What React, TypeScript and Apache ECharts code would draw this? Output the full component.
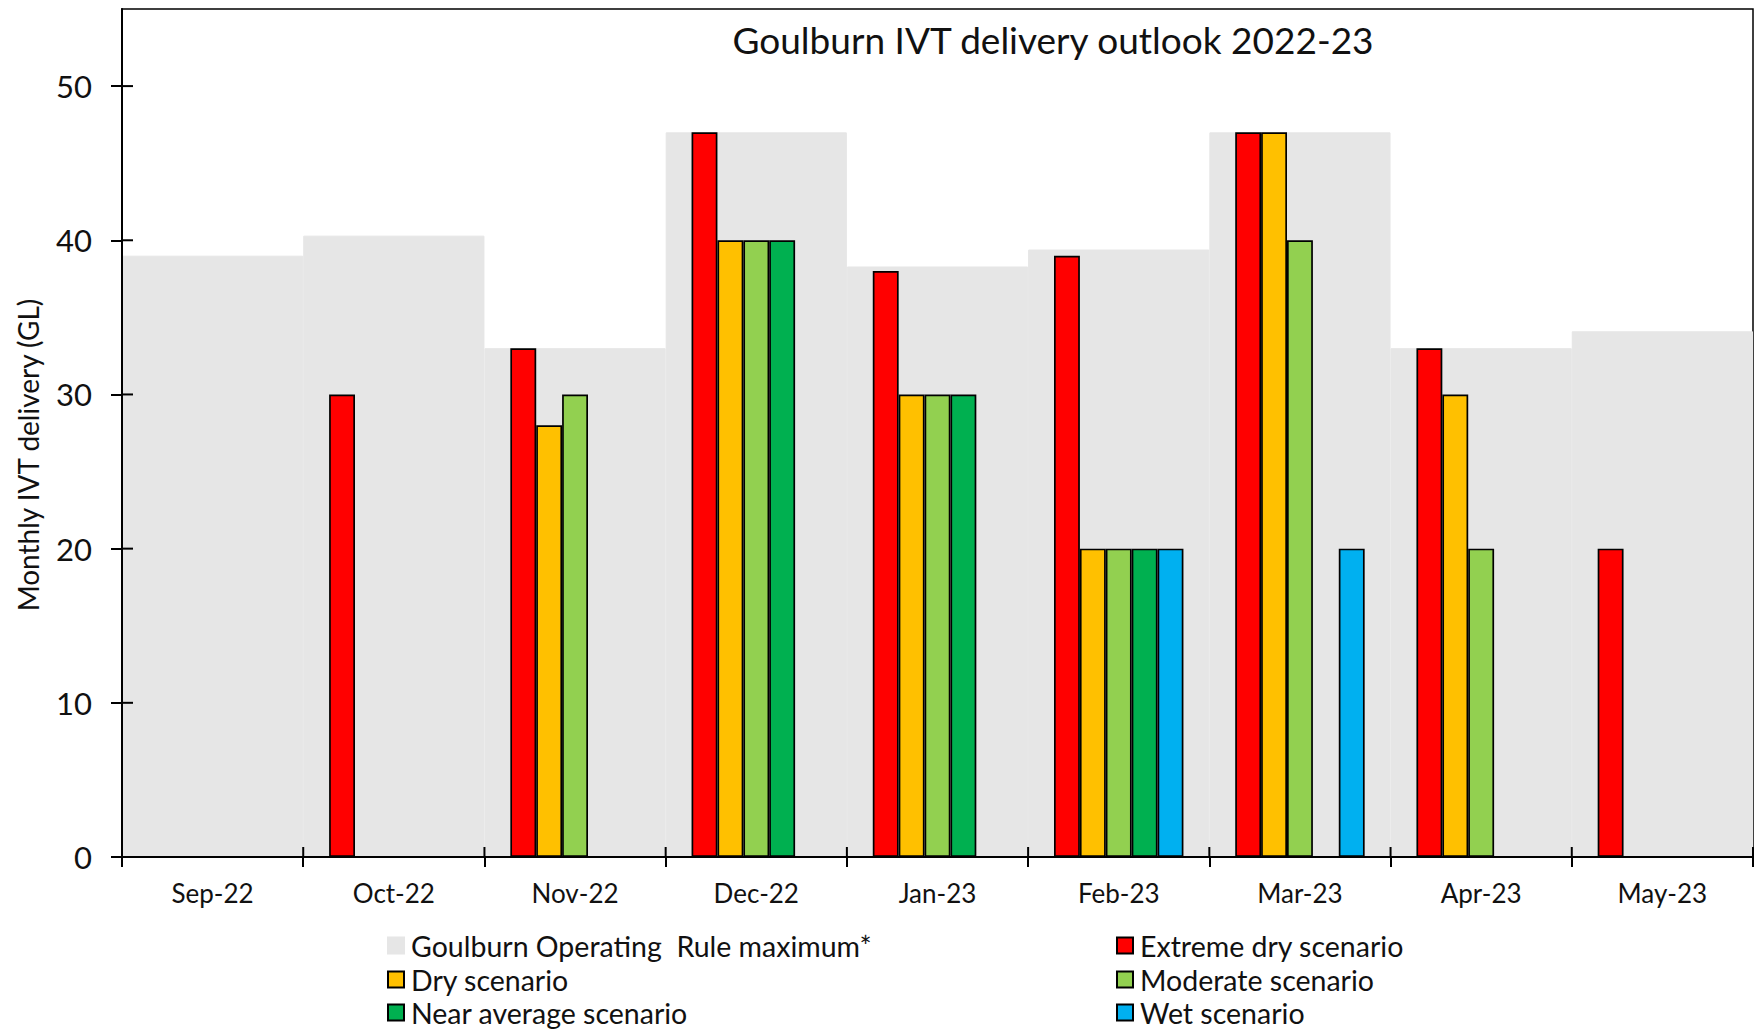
import React, { useEffect, useRef } from "react";
import * as echarts from "echarts";

const months = ["Sep-22", "Oct-22", "Nov-22", "Dec-22", "Jan-23", "Feb-23", "Mar-23", "Apr-23", "May-23"];
const ruleMax = [39, 40.3, 33, 47, 38.3, 39.4, 47, 33, 34.1];
const extremeDry = [null, 30, 33, 47, 38, 39, 47, 33, 20];
const dry = [null, null, 28, 40, 30, 20, 47, 30, null];
const moderate = [null, null, 30, 40, 30, 20, 40, 20, null];
const nearAverage = [null, null, null, 40, 30, 20, null, null, null];
const wet = [null, null, null, null, null, 20, 20, null, null];
const yTicks = [0, 10, 20, 30, 40, 50];

const RULE = "Goulburn Operating  Rule maximum*";
const legendCol1 = [RULE, "Dry scenario", "Near average scenario"];
const legendCol2 = ["Extreme dry scenario", "Moderate scenario", "Wet scenario"];

const FONT = "Lato";

export default function App() {
  const ref = useRef<HTMLDivElement>(null);
  useEffect(() => {
    document.body.style.margin = "0";
    const chart = echarts.init(ref.current!, null, { renderer: "svg" });
    const scen = (name: string, data: (number | null)[], color: string) => ({
      name,
      type: "bar",
      xAxisIndex: 0,
      yAxisIndex: 0,
      data,
      barGap: "0%",
      barCategoryGap: "28.57%",
      itemStyle: { color, borderColor: "#000", borderWidth: 1.7 },
      z: 3,
    });
    const rowCenters = [945, 979, 1012];
    const legendItem = (name: string, left: number, row: number) => ({
      orient: "horizontal",
      left,
      top: rowCenters[row] - 14,
      padding: 0,
      icon: "rect",
      itemWidth: 16,
      itemHeight: 16,
      data: [name],
      textStyle: { fontFamily: FONT, fontSize: 28.5, lineHeight: 28, color: "#111", padding: [0, 0, 0, 2] },
    });
    const legends = [
      ...legendCol1.map((n, i) => legendItem(n, 387, i)),
      ...legendCol2.map((n, i) => legendItem(n, 1116, i)),
    ];
    chart.setOption({
      animation: false,
      backgroundColor: "#fff",
      title: {
        text: "Goulburn IVT delivery outlook 2022-23",
        left: 1048,
        textAlign: "center",
        top: 16,
        textStyle: { fontFamily: FONT, fontSize: 37, fontWeight: "normal", color: "#111" },
      },
      grid: { left: 122, top: 9, right: 9, bottom: 176, show: true, borderColor: "#000", borderWidth: 1.5, backgroundColor: "transparent" },
      legend: legends,
      xAxis: [
        {
          type: "category",
          data: months,
          boundaryGap: true,
          axisLine: { lineStyle: { color: "#000", width: 2 } },
          axisTick: { show: true, interval: 0, length: 10, lineStyle: { color: "#000", width: 2 } },
          axisLabel: { interval: 0, margin: 23, fontFamily: FONT, fontSize: 26, color: "#111" },
          z: 10,
        },
        {
          type: "category",
          data: months,
          show: false,
        },
      ],
      yAxis: [
        {
          type: "value",
          min: 0,
          max: 55,
          interval: 10,
          name: "Monthly IVT delivery (GL)",
          nameLocation: "middle",
          nameGap: 80,
          nameTextStyle: { fontFamily: FONT, fontSize: 28, color: "#111", padding: [0, 44, 0, 0] },
          axisLine: { show: true, lineStyle: { color: "#000", width: 2 } },
          axisTick: { show: true, length: 11, lineStyle: { color: "#000", width: 2 } },
          axisLabel: {
            fontFamily: FONT,
            fontSize: 31,
            color: "#111",
            margin: 30,
            showMaxLabel: false,
            formatter: (v: number) => (yTicks.includes(v) ? String(v) : ""),
          },
          splitLine: { show: false },
          z: 10,
        },
      ],
      series: [
        {
          name: RULE,
          type: "bar",
          xAxisIndex: 1,
          yAxisIndex: 0,
          data: ruleMax,
          barWidth: "100%",
          itemStyle: { color: "#e6e6e6", borderColor: "#e6e6e6", borderWidth: 1 },
          z: 1,
        },
        scen("Extreme dry scenario", extremeDry, "#ff0000"),
        scen("Dry scenario", dry, "#ffc000"),
        scen("Moderate scenario", moderate, "#92d050"),
        scen("Near average scenario", nearAverage, "#00b050"),
        scen("Wet scenario", wet, "#00b0f0"),
      ],
    });

    // inner halves of the crossing tick marks, positioned through the chart's own scales
    try {
      const finder = { xAxisIndex: 0, yAxisIndex: 0 };
      const c0 = chart.convertToPixel(finder, [0, 0]) as number[];
      const c1 = chart.convertToPixel(finder, [1, 0]) as number[];
      const bw = c1[0] - c0[0];
      const axisX = c0[0] - bw / 2;
      const axisY = c0[1];
      const tickStyle = { stroke: "#000", lineWidth: 2 };
      const elements: any[] = [];
      yTicks.forEach((v) => {
        const py = (chart.convertToPixel(finder, [0, v]) as number[])[1];
        elements.push({ type: "line", z: 100, shape: { x1: axisX, y1: py, x2: axisX + 11, y2: py }, style: tickStyle });
      });
      for (let i = 0; i <= months.length; i++) {
        const x = axisX + i * bw;
        elements.push({ type: "line", z: 100, shape: { x1: x, y1: axisY, x2: x, y2: axisY - 10 }, style: tickStyle });
      }
      chart.setOption({ graphic: elements });
    } catch (e) {
      // ignore
    }
    return () => chart.dispose();
  }, []);
  return <div ref={ref} style={{ width: 1762, height: 1033 }} />;
}
